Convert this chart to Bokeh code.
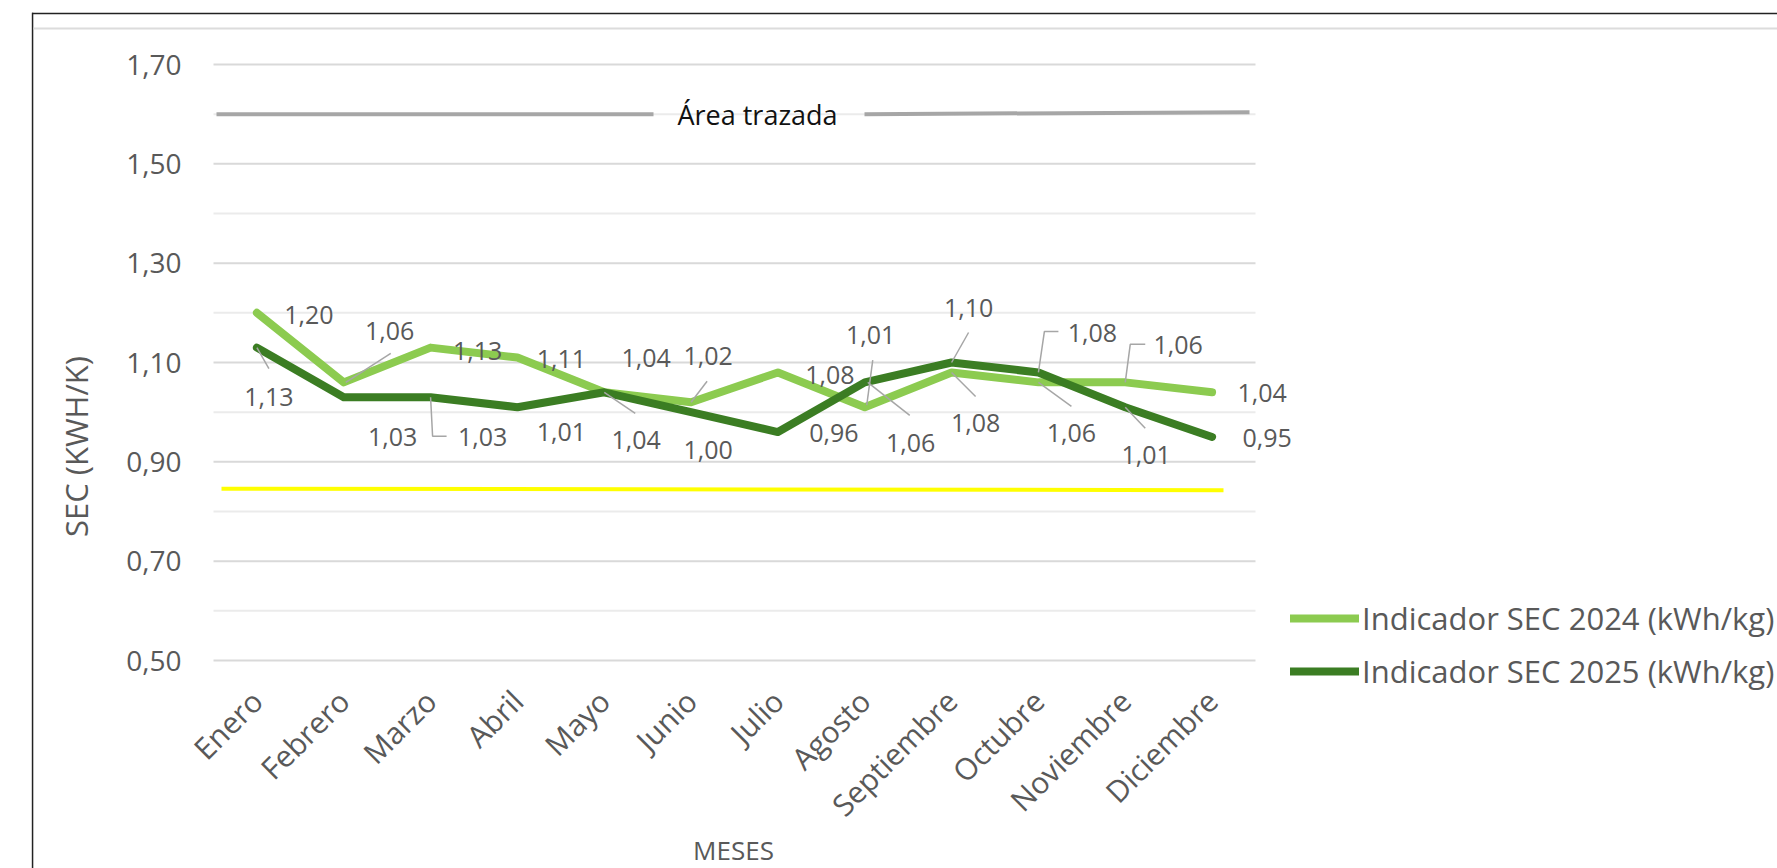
import math
from bokeh.plotting import figure
from bokeh.models import (Range1d, FixedTicker, CustomJSTickFormatter, Legend, LegendItem,
                          LabelSet, ColumnDataSource, Label, BoxAnnotation)
from bokeh.core.properties import value
from bokeh.embed import file_html
from bokeh.resources import INLINE

# ---------------- data ----------------
months = ["Enero", "Febrero", "Marzo", "Abril", "Mayo", "Junio", "Julio",
          "Agosto", "Septiembre", "Octubre", "Noviembre", "Diciembre"]
sec_2024 = [1.20, 1.06, 1.13, 1.11, 1.04, 1.02, 1.08, 1.01, 1.08, 1.06, 1.06, 1.04]
sec_2025 = [1.13, 1.03, 1.03, 1.01, 1.04, 1.00, 0.96, 1.06, 1.10, 1.08, 1.01, 0.95]
series_names = ["Indicador SEC 2024 (kWh/kg)", "Indicador SEC 2025 (kWh/kg)"]
y_major_ticks = [0.50, 0.70, 0.90, 1.10, 1.30, 1.50, 1.70]
y_minor_ticks = [0.60, 0.80, 1.00, 1.20, 1.40, 1.60]
yellow_level = [0.846, 0.843]
plot_area_level = 1.60
plot_area_text = "Área trazada"
y_title = "SEC (KWH/K)"
x_title = "MESES"

# ---------------- styles / layout ----------------
FONT = "Open Sans"
TXT = "#595959"
C24 = "#8CCB50"
C25 = "#3B7D23"
W, H = 1777, 868
FL, FT, FR, FB = 213, 64, 1255, 660          # plot-area edges in canvas px
X0, X1, Y0, Y1 = -0.5, 11.5, 0.5, 1.7
PXX = (FR - FL) / (X1 - X0)
PXY = (FB - FT) / (Y1 - Y0)


def dx(px):  # canvas px -> data x
    return X0 + (px - FL) / PXX


def dy(py):  # canvas py -> data y
    return Y1 - (py - FT) / PXY


# label offsets in screen px (dx right, dy down) relative to each point
off_24 = [(52, 2), (46, -51), (47, 3), (44, 1), (42, -34), (17, -46),
          (52, 3), (6, -72), (24, 51), (33, 51), (53, -37), (50, 1)]
off_25 = [(12, 49), (49, 40), (52, 40), (44, 25), (32, 48), (17, 38),
          (56, 1), (46, 61), (17, -55), (54, -39), (21, 48), (55, 1)]
lead_24 = [None, [(2, 0), (47, -29)], None, None, None, [(0, 0), (16, -21)],
           None, [(2, -2), (8, -47)], [(0, 0), (24, 24)], [(0, 0), (33, 24)],
           [(0, 0), (5, -38), (20, -38)], None]
lead_25 = [[(0, 0), (12, 21)], None, [(0, 0), (2, 39), (16, 39)], None,
           [(0, 0), (31, 21)], None, None, [(3, 0), (45, 33)],
           [(0, 0), (17, -30)], [(0, 0), (6, -41), (20, -41)], [(0, 0), (20, 21)], None]

xs = list(range(len(months)))

p = figure(width=W, height=H, output_backend="svg", toolbar_location=None,
           x_range=Range1d(dx(0), dx(W)), y_range=Range1d(dy(H), dy(0)),
           min_border=0)
p.outline_line_color = None
p.background_fill_color = "white"
p.border_fill_color = "white"
p.grid.visible = False

# axes (anchored at the plot-area edges)
p.xaxis.fixed_location = Y0
p.yaxis.fixed_location = X0
p.xaxis.ticker = FixedTicker(ticks=xs)
p.xaxis.major_label_overrides = {i: m for i, m in enumerate(months)}
p.xaxis.major_label_orientation = math.pi / 4
p.yaxis.ticker = FixedTicker(ticks=y_major_ticks, minor_ticks=[])
p.yaxis.formatter = CustomJSTickFormatter(code="return tick.toFixed(2).replace('.', ',');")
for ax in (p.xaxis[0], p.yaxis[0]):
    ax.axis_line_color = None
    ax.major_tick_line_color = None
    ax.minor_tick_line_color = None
    ax.major_tick_out = 0
    ax.major_tick_in = 0
    ax.minor_tick_out = 0
    ax.minor_tick_in = 0
    ax.major_label_text_font = FONT
    ax.major_label_text_color = TXT
p.yaxis.major_label_text_font_size = "28px"
p.xaxis.major_label_text_font_size = "30px"
p.yaxis.major_label_standoff = 32
p.xaxis.major_label_standoff = 35

# gridlines over the plot area
p.segment(x0=[X0] * len(y_minor_ticks), x1=[X1] * len(y_minor_ticks), y0=y_minor_ticks,
          y1=y_minor_ticks, line_color="#EBEBEB", line_width=2)
p.segment(x0=[X0] * len(y_major_ticks), x1=[X1] * len(y_major_ticks), y0=y_major_ticks,
          y1=y_major_ticks, line_color="#D9D9D9", line_width=2)

# "Área trazada" marker line and yellow reference line
p.line([dx(216), dx(653)], [plot_area_level, plot_area_level], line_color="#A6A6A6", line_width=4)
p.line([dx(864), dx(1249)], [plot_area_level, plot_area_level + 0.004], line_color="#A6A6A6", line_width=4)
p.add_layout(Label(x=dx(757), y=plot_area_level, text=plot_area_text, text_align="center",
                   text_baseline="middle", text_font=FONT, text_font_size="27px",
                   text_color="#111111"))
p.line([dx(221), dx(1223)], yellow_level, line_color="#FFFF00", line_width=4)

# series
r24 = p.line(xs, sec_2024, line_color=C24, line_width=8, line_cap="round", line_join="round")
r25 = p.line(xs, sec_2025, line_color=C25, line_width=8, line_cap="round", line_join="round")


def fmt(v):
    return f"{v:.2f}".replace(".", ",")


lx, ly, lt = [], [], []
mxs, mys = [], []
for vals, offs, leads in ((sec_2024, off_24, lead_24), (sec_2025, off_25, lead_25)):
    for i, v in enumerate(vals):
        ox, oy = offs[i]
        lx.append(i + ox / PXX)
        ly.append(v - oy / PXY)
        lt.append(fmt(v))
        if leads[i]:
            mxs.append([i + a / PXX for a, b in leads[i]])
            mys.append([v - b / PXY for a, b in leads[i]])

p.multi_line(mxs, mys, line_color="#A6A6A6", line_width=1.5)
p.add_layout(LabelSet(x="x", y="y", text="t", source=ColumnDataSource(dict(x=lx, y=ly, t=lt)),
                      text_align="center", text_baseline="middle", text_font=value(FONT),
                      text_font_size=value("25px"), text_color=value(TXT)))

# axis titles
p.add_layout(Label(x=dx(75), y=dy(446), text=y_title, angle=math.pi / 2, text_align="center",
                   text_baseline="middle", text_font=FONT, text_font_size="31px", text_color=TXT))
p.add_layout(Label(x=dx(733), y=dy(831), text=x_title, text_align="center",
                   text_baseline="top", text_font=FONT, text_font_size="26px", text_color=TXT))

# outer frame lines of the captured window
p.add_layout(BoxAnnotation(left=dx(31.5), right=dx(W + 5), top=dy(12.3), bottom=dy(13.8),
                           fill_color="#222222", fill_alpha=1, line_alpha=0))
p.add_layout(BoxAnnotation(left=dx(31.3), right=dx(32.8), top=dy(12.3), bottom=dy(H + 5),
                           fill_color="#222222", fill_alpha=1, line_alpha=0))
p.add_layout(BoxAnnotation(left=dx(33), right=dx(W + 5), top=dy(27), bottom=dy(29),
                           fill_color="#DCDCDC", fill_alpha=1, line_alpha=0))

legend = Legend(items=[LegendItem(label=series_names[0], renderers=[r24]),
                       LegendItem(label=series_names[1], renderers=[r25])],
                location=(1290, 176))
legend.padding = 0
legend.margin = 0
legend.spacing = 11
legend.glyph_width = 69
legend.glyph_height = 30
legend.label_height = 30
legend.label_standoff = 3
legend.label_text_font = FONT
legend.label_text_font_size = "31px"
legend.label_text_color = TXT
legend.label_text_baseline = "middle"
legend.border_line_alpha = 0
legend.background_fill_alpha = 0
p.add_layout(legend)

open("out.html", "w").write(file_html(p, INLINE))
